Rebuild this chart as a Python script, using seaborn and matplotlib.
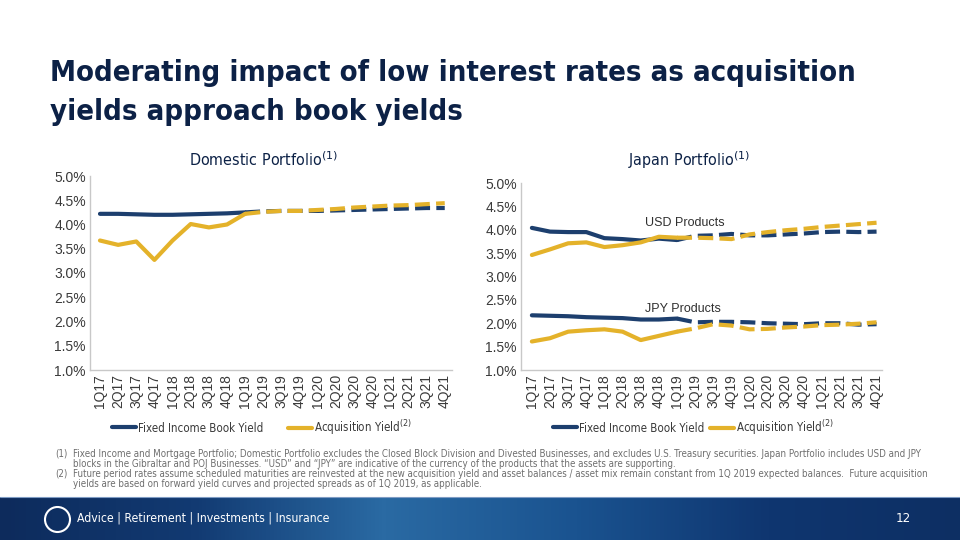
import numpy as np
import pandas as pd
import matplotlib
matplotlib.use("Agg")
import matplotlib.pyplot as plt
import seaborn as sns
from matplotlib.lines import Line2D
from matplotlib.font_manager import FontProperties

# ---- data ----
quarters = ["1Q17", "2Q17", "3Q17", "4Q17", "1Q18", "2Q18", "3Q18", "4Q18", "1Q19", "2Q19",
            "3Q19", "4Q19", "1Q20", "2Q20", "3Q20", "4Q20", "1Q21", "2Q21", "3Q21", "4Q21"]
last_actual = "1Q19"   # solid up to here, dashed (projection) after

dom_book = [4.22, 4.22, 4.21, 4.20, 4.20, 4.21, 4.22, 4.23, 4.25, 4.27,
            4.28, 4.28, 4.28, 4.29, 4.30, 4.31, 4.32, 4.33, 4.34, 4.34]
dom_acq = [3.67, 3.58, 3.65, 3.27, 3.67, 4.01, 3.94, 4.00, 4.22, 4.26,
           4.28, 4.28, 4.30, 4.32, 4.35, 4.37, 4.39, 4.40, 4.42, 4.44]

usd_book = [4.04, 3.96, 3.95, 3.95, 3.82, 3.80, 3.77, 3.81, 3.78, 3.87,
            3.88, 3.91, 3.88, 3.88, 3.90, 3.92, 3.95, 3.96, 3.95, 3.96]
usd_acq = [3.46, 3.58, 3.71, 3.73, 3.63, 3.67, 3.73, 3.85, 3.83, 3.83,
           3.82, 3.80, 3.90, 3.95, 3.99, 4.02, 4.06, 4.09, 4.12, 4.15]
jpy_book = [2.17, 2.16, 2.15, 2.13, 2.12, 2.11, 2.08, 2.08, 2.10, 2.02,
            2.03, 2.03, 2.02, 2.00, 1.99, 1.98, 2.00, 2.00, 1.97, 1.98]
jpy_acq = [1.61, 1.68, 1.82, 1.85, 1.87, 1.82, 1.64, 1.73, 1.82, 1.89,
           1.98, 1.95, 1.87, 1.88, 1.91, 1.93, 1.96, 1.97, 1.99, 2.02]

y_ticks = [1.0, 1.5, 2.0, 2.5, 3.0, 3.5, 4.0, 4.5, 5.0]
legend_labels = ["Fixed Income Book Yield", r"Acquisition Yield$^{(2)}$"]

NAVY = "#1d3f6e"
GOLD = "#e4b22a"
TITLE = "#0c2146"
GREY_TXT = "#6e6e6e"

sns.set_theme(style="white")
plt.rcParams["font.family"] = ["DejaVu Sans"]
plt.rcParams["mathtext.fontset"] = "dejavusans"
COND = dict(family="DejaVu Sans", fontstretch="condensed")
ARIAL = ["Liberation Sans", "DejaVu Sans"]


def draw_series(ax, values, color):
    df = pd.DataFrame({"x": np.arange(len(quarters)), "y": values})
    cut = quarters.index(last_actual)
    sns.lineplot(data=df.iloc[:cut + 1], x="x", y="y", ax=ax, color=color, lw=3, sort=False)
    dashed = sns.lineplot(data=df.iloc[cut:], x="x", y="y", ax=ax, color=color, lw=3, sort=False)
    dashed.lines[-1].set_dashes([3.6, 1.5])


def style_axes(ax, xlo, xhi):
    ax.set_ylim(1.0, 5.0)
    ax.set_xlim(xlo, xhi)
    ax.set_yticks(y_ticks)
    ax.set_yticklabels([f"{t:.1f}%" for t in y_ticks], fontsize=10, color="#3a3a3a", family=ARIAL)
    ax.set_xticks(np.arange(len(quarters)))
    ax.set_xticklabels(quarters, rotation=90, fontsize=10, color="#3a3a3a", family=ARIAL)
    ax.tick_params(axis="both", length=0, pad=3)
    ax.set_xlabel("")
    ax.set_ylabel("")
    for s in ["top", "right"]:
        ax.spines[s].set_visible(False)
    for s in ["left", "bottom"]:
        ax.spines[s].set_color("#c8c8c8")
        ax.spines[s].set_linewidth(1.0)


fig = plt.figure(figsize=(9.6, 5.4), dpi=100)

# Domestic portfolio panel
ax1 = fig.add_axes([90 / 960, 1 - 370 / 540, 362 / 960, 194 / 540])
draw_series(ax1, dom_book, NAVY)
draw_series(ax1, dom_acq, GOLD)
style_axes(ax1, -0.55, 19.4)
fig.text(264 / 960, 1 - 160 / 540, r"Domestic Portfolio$^{(1)}$", ha="center", va="center",
         fontsize=11.5, color=TITLE, **COND)

# Japan portfolio panel
ax2 = fig.add_axes([521 / 960, 1 - 370 / 540, 361 / 960, 187 / 540])
draw_series(ax2, usd_book, NAVY)
draw_series(ax2, usd_acq, GOLD)
draw_series(ax2, jpy_book, NAVY)
draw_series(ax2, jpy_acq, GOLD)
style_axes(ax2, -0.6, 19.3)
fig.text(689 / 960, 1 - 160 / 540, r"Japan Portfolio$^{(1)}$", ha="center", va="center",
         fontsize=11.5, color=TITLE, **COND)
ax2.text(6.26, 4.14, "USD Products", fontsize=9, color="#303030", va="center", family=ARIAL)
ax2.text(6.26, 2.30, "JPY Products", fontsize=9, color="#303030", va="center", family=ARIAL)

# legends under each chart (one entry each so they sit where the slide has them)
handles = [Line2D([], [], color=NAVY, lw=3), Line2D([], [], color=GOLD, lw=3)]
leg_font = FontProperties(family="DejaVu Sans", stretch="condensed", size=8.3)
for xs in [(112, 288), (553, 710)]:
    for h, lab, x0 in zip(handles, legend_labels, xs):
        fig.legend([h], [lab], loc="center left", bbox_to_anchor=(x0 / 960, 1 - 428 / 540),
                   frameon=False, prop=leg_font, handlelength=2.1, handletextpad=0.12,
                   borderpad=0, borderaxespad=0, labelcolor="#3a3a3a")

# footnotes
notes = [
    ("(1)", "Fixed Income and Mortgage Portfolio; Domestic Portfolio excludes the Closed Block Division and Divested Businesses, and excludes U.S. Treasury securities. Japan Portfolio includes USD and JPY",
     "blocks in the Gibraltar and POJ Businesses. \u201cUSD\u201d and \u201cJPY\u201d are indicative of the currency of the products that the assets are supporting."),
    ("(2)", "Future period rates assume scheduled maturities are reinvested at the new acquisition yield and asset balances / asset mix remain constant from 1Q 2019 expected balances.  Future acquisition",
     "yields are based on forward yield curves and projected spreads as of 1Q 2019, as applicable."),
]
y = 454
for num, l1, l2 in notes:
    fig.text(55 / 960, 1 - y / 540, num, fontsize=7.05, color=GREY_TXT, va="center", **COND)
    fig.text(73 / 960, 1 - y / 540, l1, fontsize=7.05, color=GREY_TXT, va="center", **COND)
    fig.text(73 / 960, 1 - (y + 10) / 540, l2, fontsize=7.05, color=GREY_TXT, va="center", **COND)
    y += 20

# slide title
fig.text(50 / 960, 1 - 81 / 540, "Moderating impact of low interest rates as acquisition",
         fontsize=21, fontweight="bold", color=TITLE, va="baseline", **COND)
fig.text(50 / 960, 1 - 120 / 540, "yields approach book yields",
         fontsize=21, fontweight="bold", color=TITLE, va="baseline", **COND)

# footer band
fax = fig.add_axes([0, 0, 1, 43 / 540])
grad = np.linspace(0, 1, 256)[None, :]
band = matplotlib.colors.LinearSegmentedColormap.from_list(
    "band", ["#0d2b5c", "#123a72", "#2a6aa3", "#1a5390", "#0f3670", "#0d2f63"])
fax.imshow(grad, aspect="auto", cmap=band, extent=[0, 1, 0, 1])
fax.set_xlim(0, 1)
fax.set_ylim(0, 1)
fax.set_axis_off()
fax.plot([57 / 960], [0.5], "o", ms=18, mfc="none", mec="white", mew=1.5)
fig.add_artist(Line2D([0, 1], [43 / 540, 43 / 540], color="#7f9cc4", lw=0.8))
fig.text(77 / 960, 22 / 540, "Advice | Retirement | Investments | Insurance",
         fontsize=8.8, color="white", va="center", **COND)
fig.text(903 / 960, 21 / 540, "12", fontsize=9.5, color="white", va="center", ha="center", **COND)

fig.savefig("out.png", dpi=100)
